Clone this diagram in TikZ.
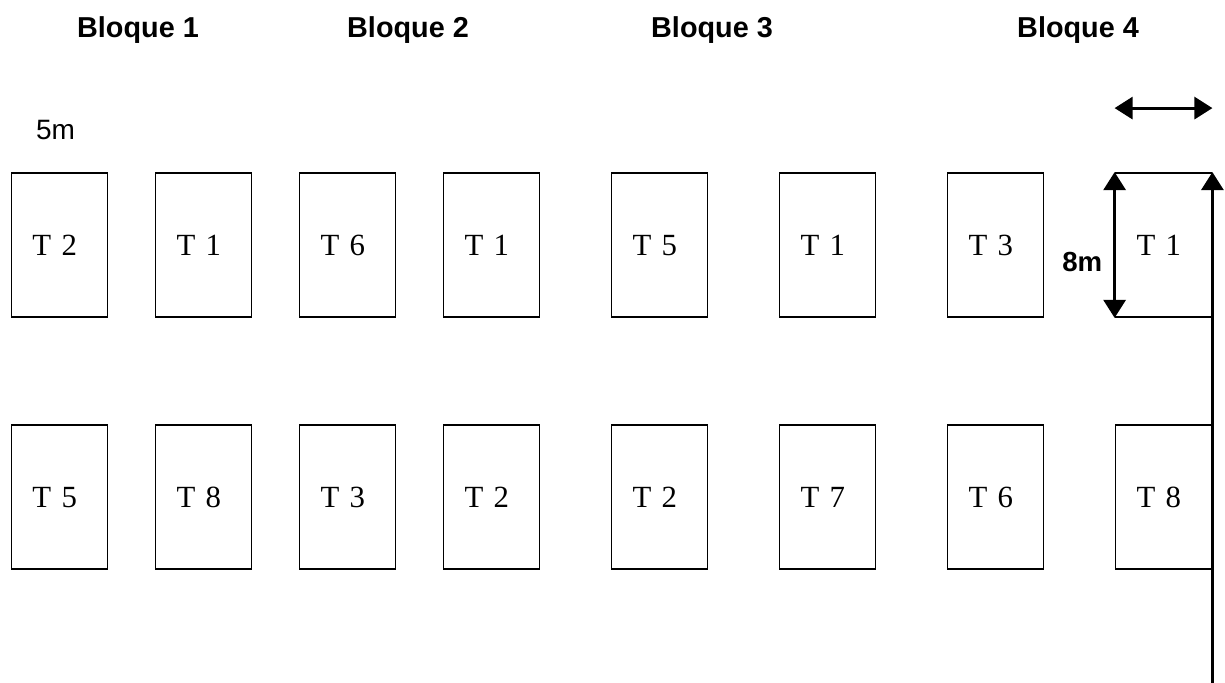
\documentclass[tikz,border=0pt]{standalone}
\usepackage{fontspec}
\setmainfont{Liberation Serif}
\newfontfamily\arialfont{Liberation Sans}
\usetikzlibrary{arrows.meta,positioning}
\tikzstyle{plot} = [rectangle, draw, line width=0.9pt, minimum width=48pt, minimum height=72pt,
    text width=27pt, inner xsep=10.5pt, align=left, text height=10.2pt, text depth=0pt,
    font=\fontsize{15.4}{18}\selectfont]
\tikzstyle{title} = [font=\arialfont\bfseries\fontsize{14.4}{17}\selectfont]
\tikzstyle{dim} = [inner sep=0pt, font=\arialfont\fontsize{14}{17}\selectfont]
\tikzstyle{measure} = [draw, line width=1.5pt, -{Triangle[length=9pt,width=11pt]}]
\tikzstyle{twoway} = [draw, line width=1.5pt, {Triangle[length=9pt,width=11pt]}-{Triangle[length=9pt,width=11pt]}]

\begin{document}
\begin{tikzpicture}[node distance=72pt]
    \useasboundingbox (0,0) rectangle (612.5pt,-341.5pt);
    % Place titles
    \node [title] (bl1) at (69pt,-15pt) {Bloque 1};
    \node [title] (bl2) at (204pt,-15pt) {Bloque 2};
    \node [title] (bl3) at (356pt,-15pt) {Bloque 3};
    \node [title] (bl4) at (539pt,-15pt) {Bloque 4};

    % Place plots, first row
    \node [plot] (top1) at (29.75pt,-122.5pt) {T 2};
    \node [plot, right of=top1] (top2) {T 1};
    \node [plot, right of=top2] (top3) {T 6};
    \node [plot, right of=top3] (top4) {T 1};
    \node [plot, right of=top4, node distance=84pt] (top5) {T 5};
    \node [plot, right of=top5, node distance=84pt] (top6) {T 1};
    \node [plot, right of=top6, node distance=84pt] (top7) {T 3};
    \node [plot, right of=top7, node distance=84pt] (top8) {T 1};

    % Place plots, second row
    \node [plot, below of=top1, node distance=126pt] (bot1) {T 5};
    \node [plot, below of=top2, node distance=126pt] (bot2) {T 8};
    \node [plot, below of=top3, node distance=126pt] (bot3) {T 3};
    \node [plot, below of=top4, node distance=126pt] (bot4) {T 2};
    \node [plot, below of=top5, node distance=126pt] (bot5) {T 2};
    \node [plot, below of=top6, node distance=126pt] (bot6) {T 7};
    \node [plot, below of=top7, node distance=126pt] (bot7) {T 6};
    \node [plot, below of=top8, node distance=126pt] (bot8) {T 8};

    % Dimensions
    \node [dim] (width) at (27.75pt,-65pt) {5m};
    \node [dim, font=\arialfont\bfseries\fontsize{13.8}{17}\selectfont,
        left=6pt of top8.west, yshift=-8.5pt] (length) {8m};
    \coordinate (wl) at ([yshift=32pt]top8.north west);
    \coordinate (wr) at ([yshift=32pt]top8.north east);
    \coordinate (base) at (top8.east |- 0,-341.5pt);

    % Draw arrows
    \path [twoway] (wl) -- (wr);
    \path [twoway] (top8.north west) -- (top8.south west);
    \path [measure] (base) -- (top8.north east);
\end{tikzpicture}
\end{document}
